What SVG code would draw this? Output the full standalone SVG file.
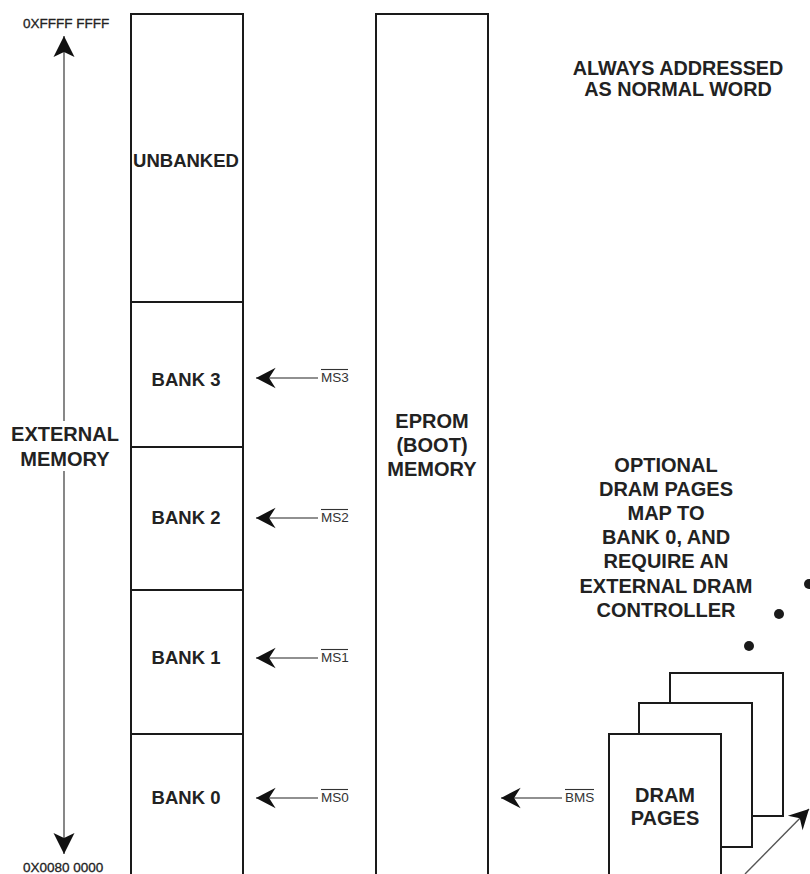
<svg xmlns="http://www.w3.org/2000/svg" width="810" height="874" viewBox="0 0 810 874">
  <style>
    .box { fill: #ffffff; stroke: #1a1a1a; stroke-width: 2; }
    .div { stroke: #1a1a1a; stroke-width: 2; }
    .lbl { font-family: "Liberation Sans", Arial, sans-serif; font-weight: bold; fill: #222; text-anchor: middle; }
    .big { font-size: 20px; }
    .note { font-size: 19.8px; }
    .bank { font-size: 18.5px; }
    .addr { font-family: "Liberation Sans", Arial, sans-serif; font-size: 13.5px; fill: #222; stroke: #222; stroke-width: 0.3; }
    .sig { font-family: "Liberation Sans", Arial, sans-serif; font-size: 13.5px; fill: #333; }
    .ovl { stroke: #333; stroke-width: 1.1; }
    .wire { stroke: #222; stroke-width: 1.2; fill: none; }
    .axis { stroke: #555; stroke-width: 1.4; fill: none; }
    .dot { fill: #1a1a1a; }
  </style>
  <defs>
    <marker id="head" markerUnits="userSpaceOnUse" markerWidth="24" markerHeight="24" viewBox="-20 -10 22 20" refX="0" refY="0" orient="auto">
      <path d="M0,0 L-18,-9.5 L-12,0 L-18,9.5 Z" fill="#111"/>
    </marker>
    <marker id="headBig" markerUnits="userSpaceOnUse" markerWidth="26" markerHeight="26" viewBox="-24 -12 26 24" refX="0" refY="0" orient="auto">
      <path d="M0,0 L-21,-10.5 L-16,0 L-21,10.5 Z" fill="#111"/>
    </marker>
  </defs>
  <rect width="810" height="874" fill="#ffffff"/>

  <!-- address range axis -->
  <g id="address-axis">
    <line class="axis" x1="64" y1="421" x2="64" y2="36" marker-end="url(#headBig)"/>
    <line class="axis" x1="64" y1="471" x2="64" y2="854" marker-end="url(#headBig)"/>
    <text class="addr" x="23" y="28">0XFFFF FFFF</text>
    <text class="addr" x="23" y="872">0X0080 0000</text>
    <text class="lbl big" x="65" y="441">EXTERNAL</text>
    <text class="lbl big" x="65" y="466">MEMORY</text>
  </g>

  <!-- external memory column -->
  <g id="external-memory">
    <rect class="box" x="131" y="14" width="112" height="880"/>
    <line class="div" x1="131" y1="302" x2="243" y2="302"/>
    <line class="div" x1="131" y1="447" x2="243" y2="447"/>
    <line class="div" x1="131" y1="590" x2="243" y2="590"/>
    <line class="div" x1="131" y1="734" x2="243" y2="734"/>
  </g>
  <g id="unbanked"><text class="lbl bank" x="186" y="167">UNBANKED</text></g>
  <g id="bank3"><text class="lbl bank" x="186" y="386">BANK 3</text></g>
  <g id="bank2"><text class="lbl bank" x="186" y="524">BANK 2</text></g>
  <g id="bank1"><text class="lbl bank" x="186" y="664">BANK 1</text></g>
  <g id="bank0"><text class="lbl bank" x="186" y="804">BANK 0</text></g>

  <!-- boot memory column -->
  <g id="eprom">
    <rect class="box" x="376" y="14" width="112" height="880"/>
    <text class="lbl big" x="432" y="428">EPROM</text>
    <text class="lbl big" x="432" y="452">(BOOT)</text>
    <text class="lbl big" x="432" y="476">MEMORY</text>
  </g>

  <!-- notes -->
  <g id="note-word">
    <text class="lbl note" x="678" y="75">ALWAYS ADDRESSED</text>
    <text class="lbl note" x="678" y="96">AS NORMAL WORD</text>
  </g>
  <g id="note-dram">
    <text class="lbl big" x="666" y="472">OPTIONAL</text>
    <text class="lbl big" x="666" y="496">DRAM PAGES</text>
    <text class="lbl big" x="666" y="520">MAP TO</text>
    <text class="lbl big" x="666" y="544">BANK 0, AND</text>
    <text class="lbl big" x="666" y="568">REQUIRE AN</text>
    <text class="lbl big" x="666" y="593">EXTERNAL DRAM</text>
    <text class="lbl big" x="666" y="617">CONTROLLER</text>
  </g>

  <!-- stacked DRAM pages -->
  <g id="dram-pages">
    <rect class="box" x="670" y="673" width="113" height="143"/>
    <rect class="box" x="639" y="703" width="113" height="144"/>
    <rect class="box" x="609" y="734" width="112" height="160"/>
    <text class="lbl big" x="665" y="802">DRAM</text>
    <text class="lbl big" x="665" y="825">PAGES</text>
  </g>
  <g id="continuation-dots">
    <circle class="dot" cx="749" cy="646" r="5"/>
    <circle class="dot" cx="779" cy="614" r="5"/>
    <circle class="dot" cx="809" cy="584" r="5"/>
  </g>

  <!-- select signal connectors -->
  <g id="connectors">
    <line class="wire" x1="318" y1="378" x2="256" y2="378" marker-end="url(#head)"/>
    <line class="wire" x1="318" y1="518" x2="256" y2="518" marker-end="url(#head)"/>
    <line class="wire" x1="318" y1="658" x2="256" y2="658" marker-end="url(#head)"/>
    <line class="wire" x1="318" y1="798" x2="256" y2="798" marker-end="url(#head)"/>
    <line class="wire" x1="562" y1="798" x2="501" y2="798" marker-end="url(#head)"/>
    <line class="axis" x1="745" y1="874" x2="809" y2="809" marker-end="url(#head)"/>
  </g>
  <g id="signal-labels">
    <text class="sig" x="321" y="382">MS3</text><line class="ovl" x1="321" y1="369.5" x2="348" y2="369.5"/>
    <text class="sig" x="321" y="522">MS2</text><line class="ovl" x1="321" y1="509.5" x2="348" y2="509.5"/>
    <text class="sig" x="321" y="662">MS1</text><line class="ovl" x1="321" y1="649.5" x2="348" y2="649.5"/>
    <text class="sig" x="321" y="802">MS0</text><line class="ovl" x1="321" y1="789.5" x2="348" y2="789.5"/>
    <text class="sig" x="565" y="802">BMS</text><line class="ovl" x1="565" y1="789.5" x2="594" y2="789.5"/>
  </g>
</svg>
